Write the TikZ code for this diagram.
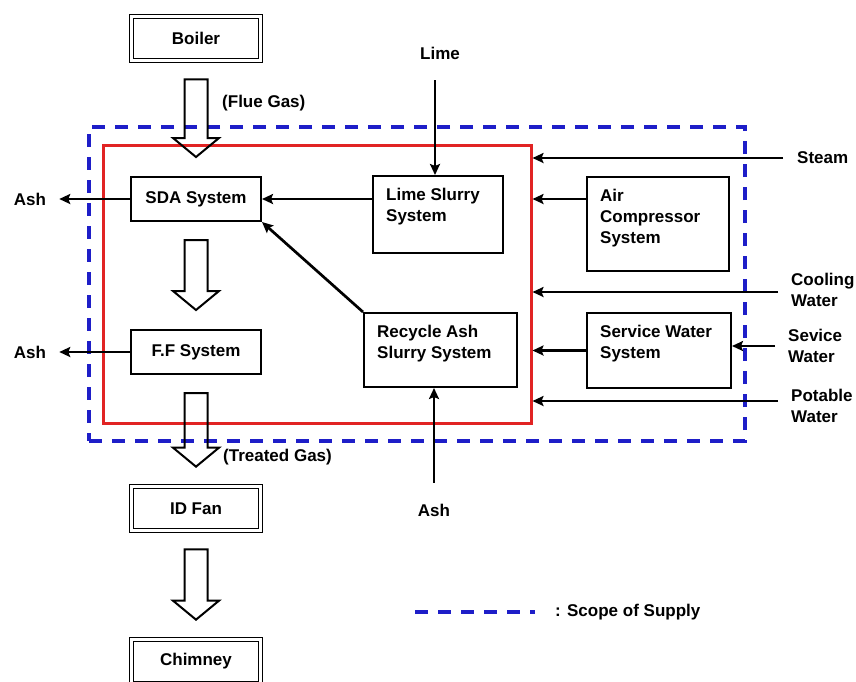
\documentclass[tikz,border=0pt]{standalone}
\usepackage{fontspec}
\setmainfont{Liberation Sans}
\usetikzlibrary{arrows.meta,calc}

\definecolor{azulsum}{RGB}{30,30,200}
\definecolor{rojosis}{RGB}{225,35,35}

\tikzset{
  texto/.style={font=\bfseries\fontsize{17}{21}\selectfont, inner sep=0pt},
  caja/.style={draw, line width=2pt, inner sep=0pt},
  cajadoble/.style={draw, double, line width=1.7pt, double distance=2.2pt,
    minimum width=129pt, minimum height=44pt, texto},
  rotulo/.style={texto, align=left, anchor=north west, xshift=14pt, yshift=-12.5pt},
  flujo/.style={line width=2.7pt, -{Stealth[length=11pt,width=10pt,inset=2pt]}},
  hueco/.style={line width=2pt, line join=miter},
  suministro/.style={draw=azulsum, line width=3.5pt, dash pattern=on 13pt off 10pt},
}

% Flecha hueca de gas entre dos bloques.
\newcommand{\flechagas}[2]{%
  \draw[hueco] let \p1=($(#1.south)+(0,18)$), \p2=($(#2.north)+(0,-19)$) in
    (\x1-11.5pt,\y1) -- (\x1+11.5pt,\y1) -- (\x1+11.5pt,\y2+19pt) -- (\x1+23pt,\y2+19pt)
    -- (\x1,\y2) -- (\x1-23pt,\y2+19pt) -- (\x1-11.5pt,\y2+19pt) -- cycle;}

\begin{document}
\begin{tikzpicture}[x=1pt,y=-1pt]
    \useasboundingbox (0,0) rectangle (856,681);

    % Limites: sistema (rojo) y alcance de suministro (azul).
    \node[draw=rojosis, line width=3pt, minimum width=428pt, minimum height=278pt,
      inner sep=0pt] (sistema) at (317,284) {};
    \node[suministro, minimum width=656pt, minimum height=314pt, inner sep=0pt]
      (alcance) at (417,284) {};

    % Bloques de la linea de gas.
    \node[cajadoble] (caldera) at (196,38.5) {Boiler};
    \node[caja, texto, minimum width=130pt, minimum height=44pt] (sda) at (196,199) {SDA System};
    \node[caja, texto, minimum width=130pt, minimum height=44pt] (ff) at (196,352) {F.F System};
    \node[cajadoble] (ventilador) at (196,508.5) {ID Fan};
    \node[cajadoble] (chimenea) at (196,661.5) {Chimney};

    % Sistemas auxiliares.
    \node[caja, minimum width=130pt, minimum height=77pt,
      label={[rotulo]north west:{Lime Slurry\\System}}] (lechada) at (438,214.5) {};
    \node[caja, minimum width=153pt, minimum height=74pt,
      label={[rotulo]north west:{Recycle Ash\\Slurry System}}] (reciclo) at (440.5,350) {};
    \node[caja, minimum width=142pt, minimum height=94pt,
      label={[rotulo]north west:{Air\\Compressor\\System}}] (aire) at (658,224) {};
    \node[caja, minimum width=144pt, minimum height=75pt,
      label={[rotulo]north west:{Service Water\\System}}] (agua) at (659,350.5) {};

    % Textos de entradas y salidas.
    \node[texto] (ceniza1) at (30,199) {Ash};
    \node[texto] (ceniza2) at (30,352) {Ash};
    \node[texto] (cal) at (440,53) {Lime};
    \node[texto] (ceniza3) at (434,510) {Ash};
    \node[texto, anchor=west] (vapor) at (797,158) {Steam};
    \node[texto, anchor=west, align=left] (enfria) at (791,290) {Cooling\\Water};
    \node[texto, anchor=west, align=left] (servicio) at (788,346) {Sevice\\Water};
    \node[texto, anchor=west, align=left] (potable) at (791,406) {Potable\\Water};
    \node[texto, anchor=west] (humos) at (222,103) {(Flue Gas)};
    \node[texto, anchor=west] (tratado) at (223,457) {(Treated Gas)};

    % Flechas huecas del gas.
    \flechagas{caldera}{sda}
    \flechagas{sda}{ff}
    \flechagas{ff}{ventilador}
    \flechagas{ventilador}{chimenea}

    % Conexiones.
    \draw[flujo, shorten >=13pt] (sda.west) -- (ceniza1.east);
    \draw[flujo, shorten >=13pt] (ff.west) -- (ceniza2.east);
    \draw[flujo, shorten <=21pt] ([xshift=-5pt]cal.south) -- ([xshift=-5pt]cal.south |- lechada.north);
    \draw[flujo] (lechada.west |- sda.east) -- (sda.east);
    \draw[flujo] (reciclo.north west) -- (sda.south east);
    \draw[flujo, shorten <=21pt] (ceniza3.north) -- (ceniza3.north |- reciclo.south);
    \draw[flujo, shorten <=14pt] (vapor.west) -- (vapor.west -| sistema.east);
    \draw[flujo] (aire.west |- sda.east) -- (sda.east -| sistema.east);
    \draw[flujo, shorten <=13pt] ([yshift=-2pt]enfria.west) -- ([yshift=-2pt]enfria.west -| sistema.east);
    \draw[flujo] (agua.west) -- (agua.west -| sistema.east);
    \draw[flujo, shorten <=13pt] (servicio.west) -- (servicio.west -| agua.east);
    \draw[flujo, shorten <=13pt] ([yshift=5pt]potable.west) -- ([yshift=5pt]potable.west -| sistema.east);

    % Leyenda.
    \coordinate (ley1) at (415,612);
    \coordinate (ley2) at (535,612);
    \draw[suministro] (ley1) -- (ley2);
    \node[texto, anchor=west] (leyenda) at (555,612) {: Scope of Supply};
\end{tikzpicture}
\end{document}
